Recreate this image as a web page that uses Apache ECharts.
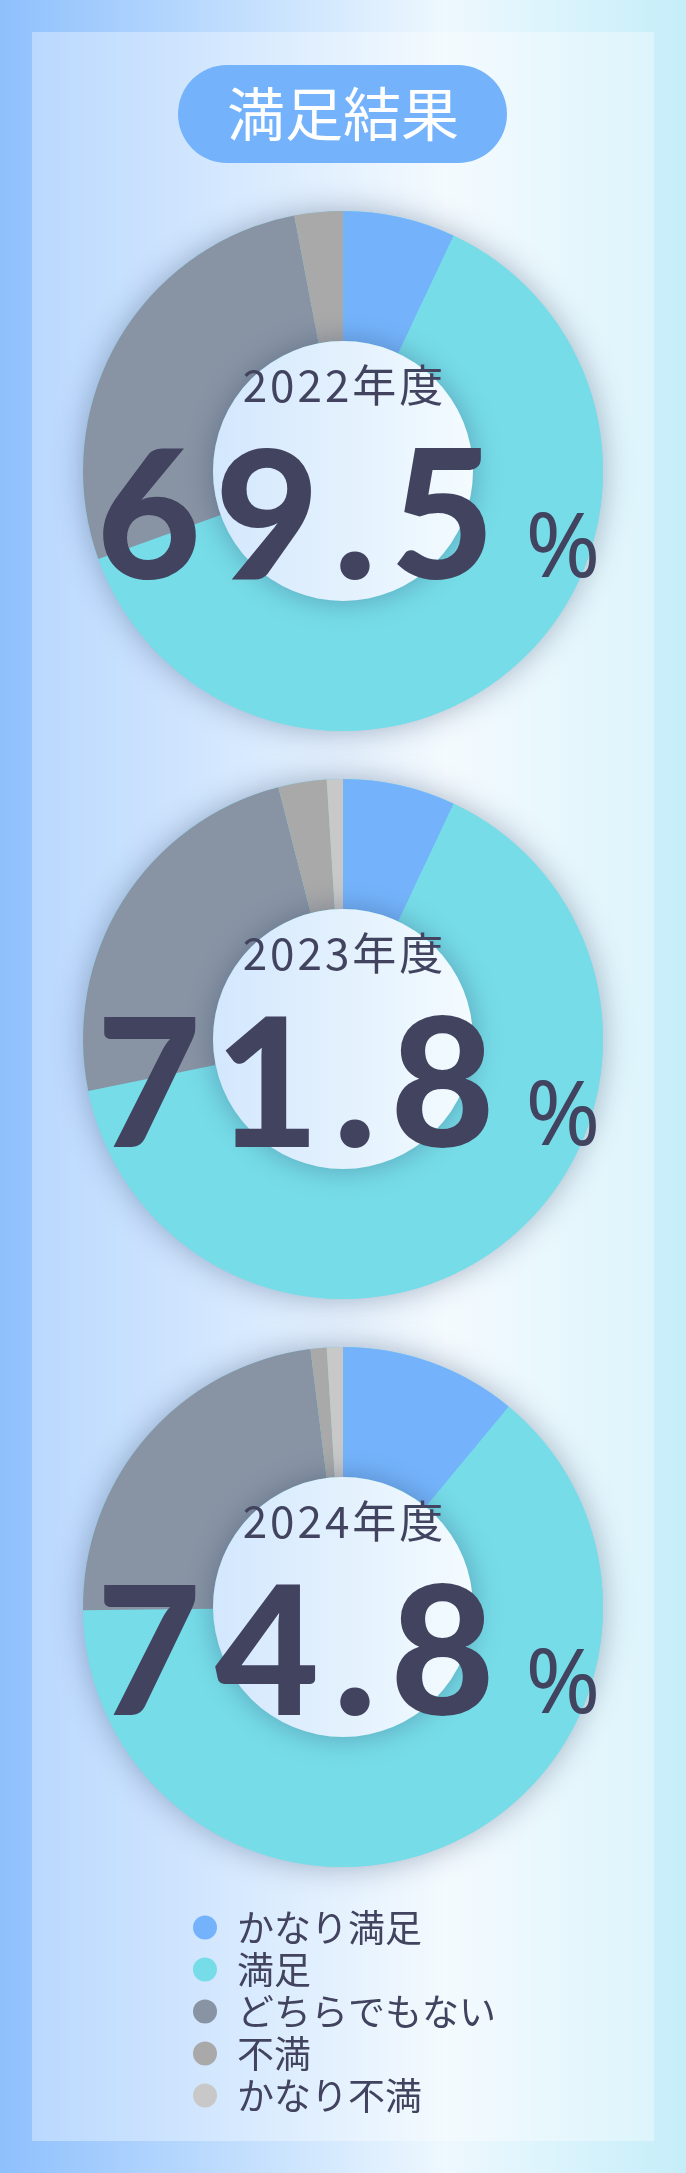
<!DOCTYPE html>
<html>
<head>
<meta charset="utf-8">
<title>満足結果</title>
<script src="https://cdn.jsdelivr.net/npm/echarts@6/dist/echarts.min.js"></script>
<style>
  html, body { margin: 0; padding: 0; }
  #main { width: 686px; height: 2173px; }
</style>
</head>
<body>
<div id="main"></div>
<script>
// データ
var categories = ['かなり満足', '満足', 'どちらでもない', '不満', 'かなり不満'];
var colors = ['#74b3fb', '#76dce8', '#8894a4', '#a9a9a9', '#c8c8c8'];
var years = ['2022年度', '2023年度', '2024年度'];
var rate2022 = [7.0, 62.5, 27.5, 3.0, 0];
var rate2023 = [7.0, 64.8, 24.2, 3.0, 1.0];
var rate2024 = [11.0, 63.8, 23.2, 1.0, 1.0];
var satisfied = ['69.5', '71.8', '74.8'];
var rates = [rate2022, rate2023, rate2024];

var textColor = '#42435f';
var cx = 343;
var centersY = [471, 1039, 1607];
var rIn = 130, rOut = 260;

// 1文字ずつトークンにして字間をあける
function spaced(str, key) {
  return str.split('').map(function (ch) { return '{' + key + '|' + ch + '}'; }).join('');
}

var myChart = echarts.init(document.getElementById('main'));

var series = [];
var graphic = [
  // 白い枠
  { type: 'rect', z: 0, shape: { x: 32, y: 32, width: 622, height: 2109 },
    style: { fill: 'rgba(255,255,255,0.35)' } },
  // タイトル
  { type: 'rect', z: 1, shape: { x: 178, y: 65, width: 329, height: 98, r: 49 },
    style: { fill: '#74b3fb' } },
  { type: 'text', z: 2, x: 343, y: 114,
    style: { text: '満足結果', fill: '#fff', fontSize: 58,
      fontFamily: 'Noto Sans CJK JP', align: 'center', verticalAlign: 'middle' } }
];

years.forEach(function (year, i) {
  var cy = centersY[i];
  // 外側の影
  series.push({
    type: 'pie', silent: true, z: 1, animation: false,
    center: [cx, cy], radius: [0, rOut],
    label: { show: false }, labelLine: { show: false },
    itemStyle: { color: '#76dce8', shadowBlur: 30, shadowColor: 'rgba(30,50,90,0.35)' },
    data: [{ value: 1, name: '' }]
  });
  // ドーナツ本体
  series.push({
    name: year, type: 'pie', z: 2, animation: false,
    center: [cx, cy], radius: [rIn, rOut],
    startAngle: 90, clockwise: true,
    label: { show: false }, labelLine: { show: false },
    emphasis: { disabled: true },
    data: categories.map(function (c, k) {
      return { name: c, value: rates[i][k], itemStyle: { color: colors[k] } };
    })
  });
  // 中央の円
  series.push({
    type: 'pie', silent: true, z: 3, animation: false,
    center: [cx, cy], radius: [0, rIn],
    label: { show: false }, labelLine: { show: false },
    itemStyle: {
      color: new echarts.graphic.LinearGradient(0, 0, 1, 0, [
        { offset: 0, color: '#d3e7fd' },
        { offset: 1, color: '#f3fbfe' }
      ]),
      shadowBlur: 30, shadowColor: 'rgba(30,50,90,0.35)'
    },
    data: [{ value: 1, name: '' }]
  });

  graphic.push({
    type: 'text', z: 10, x: cx, y: cy - 86,
    style: {
      text: spaced(year, 'y'),
      align: 'center', verticalAlign: 'middle',
      rich: {
        y: { fill: textColor, fontSize: 44, fontFamily: 'Noto Sans CJK JP',
          padding: [0, 1.5, 0, 1.5] }
      }
    }
  });
  graphic.push({
    type: 'text', z: 10, x: 345, y: cy + 140,
    style: {
      text: spaced(satisfied[i], 'n') + '{g| }{p|%}',
      align: 'center', verticalAlign: 'bottom',
      rich: {
        n: { fontFamily: 'Lato', fontWeight: 900, fontSize: 180, lineHeight: 180,
          padding: [0, 7, 0, 7], fill: textColor, verticalAlign: 'bottom' },
        g: { fontSize: 10, width: 24, verticalAlign: 'bottom' },
        p: { fontFamily: 'Noto Sans', fontSize: 90, lineHeight: 120,
          padding: [0, 0, 15, 0], fill: textColor, verticalAlign: 'bottom' }
      }
    }
  });
});

var option = {
  backgroundColor: new echarts.graphic.LinearGradient(0, 0, 1, 0, [
    { offset: 0, color: '#8ec0fd' },
    { offset: 0.65, color: '#eef8fe' },
    { offset: 1, color: '#c5eef9' }
  ]),
  legend: {
    data: categories,
    orient: 'vertical',
    left: 188,
    top: 1904,
    icon: 'circle',
    itemWidth: 54,
    itemHeight: 24,
    itemGap: 5,
    selectedMode: false,
    textStyle: { color: textColor, fontSize: 37, lineHeight: 37, fontFamily: 'Noto Sans CJK JP' }
  },
  graphic: graphic,
  series: series
};

myChart.setOption(option);
</script>
</body>
</html>
